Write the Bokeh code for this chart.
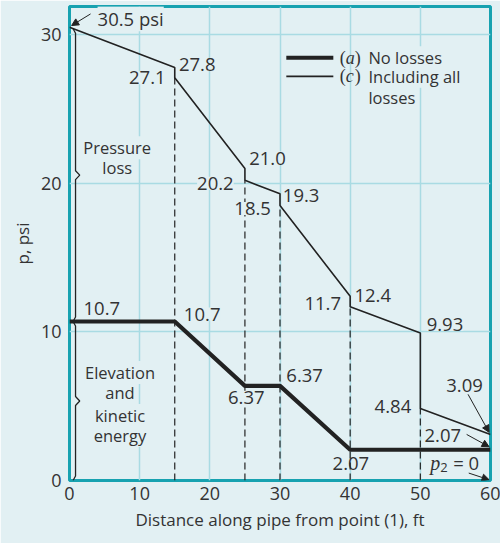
import numpy as np
from bokeh.plotting import figure
from bokeh.models import Label, Arrow, NormalHead, Range1d, FixedTicker
from bokeh.embed import file_html
from bokeh.resources import INLINE

# ---- data ----
x_losses = [0, 15, 15, 25, 25, 30, 30, 40, 40, 50, 50, 60]
p_losses = [30.5, 27.8, 27.1, 21.0, 20.2, 19.3, 18.5, 12.4, 11.7, 9.93, 4.84, 3.09]
x_noloss = [0, 15, 25, 30, 40, 60]
p_noloss = [10.7, 10.7, 6.37, 6.37, 2.07, 2.07]
fitting_x = [15, 25, 30, 40, 50]
x_ticks = [0, 10, 20, 30, 40, 50, 60]
y_ticks = [0, 10, 20, 30]

BG = "#e2f0f3"
GRID = "#a9dbe3"
FRAME = "#17a2b0"
INK = "#222222"
TXT = "#333333"
SANS = "Open Sans"
SERIF = "Liberation Serif"

p = figure(width=500, height=543, output_backend="svg", toolbar_location=None,
           x_range=Range1d(0, 60), y_range=Range1d(0, 31.9),
           min_border_left=69, min_border_right=10, min_border_top=6, min_border_bottom=63)
p.background_fill_color = BG
p.border_fill_color = BG
p.outline_line_color = FRAME
p.outline_line_width = 3
p.xgrid.grid_line_color = GRID
p.ygrid.grid_line_color = GRID
p.xgrid.grid_line_width = 1.5
p.ygrid.grid_line_width = 1.5
for ax in (p.xaxis[0], p.yaxis[0]):
    ax.axis_line_color = None
    ax.major_tick_line_color = None
    ax.minor_tick_line_color = None
    ax.major_tick_out = 0
    ax.major_tick_in = 0
    ax.major_label_text_font = SANS
    ax.major_label_text_font_size = "18px"
    ax.major_label_text_color = TXT
    ax.axis_label_text_font = SANS
    ax.axis_label_text_font_style = "normal"
    ax.axis_label_text_color = TXT
p.xaxis.ticker = FixedTicker(ticks=x_ticks)
p.yaxis.ticker = FixedTicker(ticks=y_ticks)
p.xaxis.major_label_standoff = 6
p.yaxis.major_label_standoff = 8
p.xaxis.axis_label = "Distance along pipe from point (1), ft"
p.xaxis.axis_label_text_font_size = "17px"
p.xaxis.axis_label_standoff = 5
p.yaxis.axis_label = "p, psi"
p.yaxis.axis_label_text_font_size = "17px"
p.yaxis.axis_label_standoff = 4

# dashed verticals at fittings, from 0 to the lower loss value
low_vals = []
for fx in fitting_x:
    vals = [pv for xv, pv in zip(x_losses, p_losses) if xv == fx]
    low_vals.append(min(vals))
p.segment(x0=fitting_x, y0=[0] * len(fitting_x), x1=fitting_x, y1=low_vals,
          line_color=INK, line_width=1.2, line_dash="7 4")

# main lines
p.line(x_noloss, p_noloss, line_color=INK, line_width=4.2)
p.line(x_losses, p_losses, line_color=INK, line_width=1.6)

# braces
def brace(x0, top, bot, w=0.6, c=0.35):
    mid = (top + bot) / 2
    xs = [x0 - c, x0, x0, x0 + w, x0, x0, x0 - c]
    ys = [top, top - 0.3, mid + 0.3, mid, mid - 0.3, bot + 0.3, bot]
    p.line(xs, ys, line_color=INK, line_width=1.3)

brace(0.86, p_losses[0] - 0.1, p_noloss[0])
brace(0.86, p_noloss[0], 0)

# legend (custom)
p.line([30.9, 37.6], [28.45, 28.45], line_color=INK, line_width=4.2)
p.line([30.9, 37.6], [27.2, 27.2], line_color=INK, line_width=1.6)


def lab(x, y, text, align="left", bg=True, level="underlay", size="18.5px",
        font=SANS, style="normal", angle=0, xo=0, yo=0):
    l = Label(x=x, y=y, text=text, text_align=align, text_baseline="middle",
              text_font=font, text_font_size=size, text_font_style=style,
              text_color=TXT, angle=angle, x_offset=xo, y_offset=yo,
              background_fill_color=BG if bg else None, level=level)
    p.add_layout(l)

# legend texts
lab(38.5, 28.45, "(", font=SERIF, size="18px", bg=False)
lab(38.5, 28.45, "a", font=SERIF, size="18px", style="italic", xo=6, bg=False)
lab(38.5, 28.45, ")", font=SERIF, size="18px", xo=15, bg=False)
lab(42.6, 28.45, "No losses", size="16.5px")
lab(38.5, 27.2, "(", font=SERIF, size="18px", bg=False)
lab(38.5, 27.2, "c", font=SERIF, size="18px", style="italic", xo=6, bg=False)
lab(38.5, 27.2, ")", font=SERIF, size="18px", xo=15, bg=False)
lab(42.6, 27.2, "Including all", size="16.5px")
lab(42.6, 25.8, "losses", size="16.5px")

# value labels
lab(4.0, 31.07, "30.5 psi")
lab(15.6, 28.0, "27.8")
lab(13.7, 27.1, "27.1", align="right")
lab(25.6, 21.7, "21.0")
lab(23.4, 20.0, "20.2", align="right")
lab(30.4, 19.2, "19.3")
lab(26.1, 18.3, "18.5", align="center", level="annotation")
lab(40.6, 12.45, "12.4")
lab(38.7, 11.9, "11.7", align="right")
lab(50.9, 10.5, "9.93")
lab(2.0, 11.6, "10.7")
lab(16.3, 11.2, "10.7")
lab(30.9, 7.06, "6.37")
lab(25.2, 5.6, "6.37", align="center", level="annotation")
lab(40.1, 1.15, "2.07", align="center", bg=False)
lab(48.7, 5.0, "4.84", align="right")
lab(50.6, 3.0, "2.07")
lab(53.7, 6.4, "3.09")
lab(51.4, 1.2, "p", font=SERIF, size="20px", style="italic", bg=False)
lab(51.4, 1.2, "2", size="13px", xo=10, yo=-5, bg=False)
lab(51.4, 1.2, "= 0", size="18.5px", xo=23, bg=False)

# brace texts
lab(6.8, 22.4, "Pressure", align="center", size="16.5px")
lab(6.8, 21.05, "loss", align="center", size="16.5px")
lab(7.2, 7.26, "Elevation", align="center", size="16.5px")
lab(7.2, 5.9, "and", align="center", size="16.5px")
lab(7.2, 4.37, "kinetic", align="center", size="16.5px")
lab(7.2, 3.03, "energy", align="center", size="16.5px")

# arrows
def arrow(xs, ys, xe, ye):
    p.add_layout(Arrow(x_start=xs, y_start=ys, x_end=xe, y_end=ye,
                       end=NormalHead(size=7, line_color=INK, fill_color=INK, line_width=1),
                       line_color=INK, line_width=1))

arrow(3.0, 31.4, x_losses[0] + 0.3, p_losses[0] + 0.12)
arrow(56.8, 5.8, x_losses[-1] - 0.2, p_losses[-1] + 0.15)
arrow(56.6, 3.1, x_noloss[-1] - 0.2, p_noloss[-1] + 0.2)
arrow(56.9, 0.5, x_noloss[-1] - 0.2, 0.05)

html = file_html(p, INLINE)
html = html.replace("<body>", '<body style="background-color:%s;">' % BG, 1)
open("out.html", "w").write(html)
